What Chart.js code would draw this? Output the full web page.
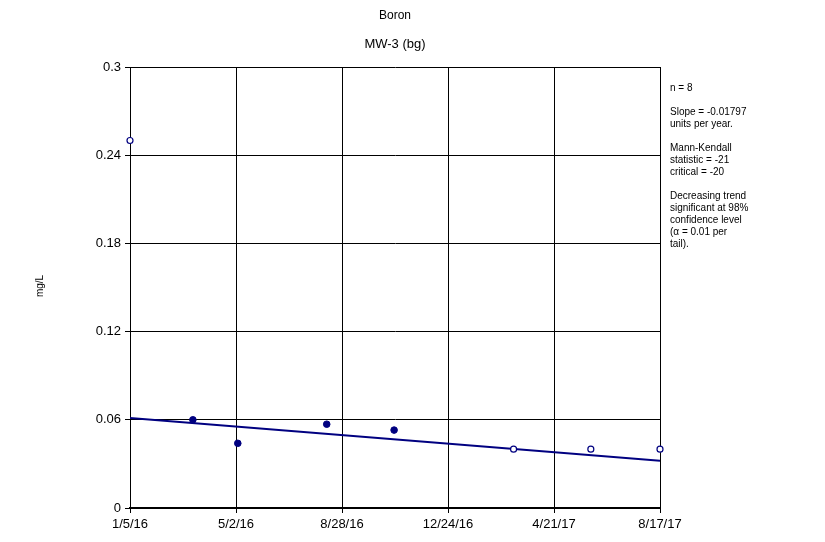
<!DOCTYPE html>
<html>
<head>
<meta charset="utf-8">
<script src="https://cdn.jsdelivr.net/npm/chart.js@4"></script>
<style>
  html, body { margin: 0; padding: 0; background: #fff; }
  #wrap { width: 825px; height: 542px; }
</style>
</head>
<body>
<div id="wrap"><canvas id="myChart" width="825" height="542"></canvas></div>
<script>
// sample dates and boron results (mg/L)
const sampleDates = ['1/5/16', '3/15/16', '5/4/16', '8/11/16', '10/25/16', '3/7/17', '6/1/17', '8/17/17'];
const boron = [0.25, 0.06, 0.044, 0.057, 0.053, 0.04, 0.04, 0.04];
// true = below reporting limit (hollow marker)
const nonDetect = [true, false, false, false, false, true, true, true];

// Sen's slope trend line, start and end
const trendDates = ['1/5/16', '8/17/17'];
const trendValues = [0.0612, 0.0322];

const xTickLabels = ['1/5/16', '5/2/16', '8/28/16', '12/24/16', '4/21/17', '8/17/17'];
const yTickLabels = ['0', '0.06', '0.12', '0.18', '0.24', '0.3'];

const statsText = [
    ['n = 8'],
    ['Slope = -0.01797', 'units per year.'],
    ['Mann-Kendall', 'statistic = -21', 'critical = -20'],
    ['Decreasing trend', 'significant at 98%', 'confidence level', '(\u03b1 = 0.01 per', 'tail).'],
];

const FONT = '"Liberation Sans", Arial, sans-serif';

// days since first sample
function toDay(s) {
    const [m, d, y] = s.split('/').map(Number);
    return (Date.UTC(2000 + y, m - 1, d) - Date.UTC(2016, 0, 5)) / 86400000;
}

const detected = [];
const undetected = [];
sampleDates.forEach((d, i) => {
    const pt = { x: toDay(d), y: boron[i] };
    (nonDetect[i] ? undetected : detected).push(pt);
});
const trend = trendDates.map((d, i) => ({ x: toDay(d), y: trendValues[i] }));
const xTicks = xTickLabels.map(toDay);

const textPlugin = {
    id: 'textPlugin',
    afterDraw(chart) {
        const c = chart.ctx;
        const area = chart.chartArea;
        const mid = (area.left + area.right) / 2;
        c.save();
        c.fillStyle = '#000';
        c.textAlign = 'center';
        c.textBaseline = 'middle';
        c.font = '12px ' + FONT;
        c.fillText('Boron', mid, 16);
        c.font = '13px ' + FONT;
        c.fillText('MW-3 (bg)', mid, 44);

        c.save();
        c.translate(40, 286);
        c.rotate(-Math.PI / 2);
        c.font = '10px ' + FONT;
        c.fillText('mg/L', 0, 0);
        c.restore();

        c.textAlign = 'left';
        c.font = '10px ' + FONT;
        let y = 88;
        statsText.forEach(block => {
            block.forEach(line => {
                c.fillText(line, 670, y);
                y += 12;
            });
            y += 12;
        });
        c.restore();
    },
};

let ctx = document.getElementById('myChart').getContext('2d');

new Chart(ctx, {
    type: 'scatter',
    data: {
        datasets: [
            {
                label: 'Trend',
                type: 'line',
                data: trend,
                borderColor: '#000080',
                borderWidth: 2,
                pointRadius: 0,
                fill: false,
                order: 2,
            },
            {
                label: 'Detected',
                data: detected,
                backgroundColor: '#000080',
                borderColor: '#000080',
                pointRadius: 3.3,
                borderWidth: 1,
                clip: false,
                order: 1,
            },
            {
                label: 'Non-detect',
                data: undetected,
                backgroundColor: '#ffffff',
                borderColor: '#000080',
                pointRadius: 3,
                borderWidth: 1.2,
                clip: false,
                order: 0,
            },
        ],
    },
    options: {
        responsive: false,
        animation: false,
        layout: {
            padding: { left: 70, right: 165, top: 67, bottom: 0 },
        },
        plugins: {
            legend: { display: false },
            title: { display: false },
            tooltip: { enabled: false },
        },
        scales: {
            x: {
                type: 'linear',
                min: 0,
                max: xTicks[xTicks.length - 1],
                afterBuildTicks: scale => {
                    scale.ticks = xTicks.map(v => ({ value: v }));
                },
                afterFit: scale => { scale.height = 34; },
                ticks: {
                    color: '#000',
                    font: { family: FONT, size: 13 },
                    padding: 4,
                    maxRotation: 0,
                    autoSkip: false,
                    callback: (v, i) => xTickLabels[i],
                },
                grid: { color: '#000', lineWidth: 1, tickLength: 5 },
                border: { color: '#000', width: 2 },
            },
            y: {
                min: 0,
                max: 0.3,
                afterBuildTicks: scale => {
                    scale.ticks = yTickLabels.map(v => ({ value: Number(v) }));
                },
                afterFit: scale => { scale.width = 60; },
                ticks: {
                    color: '#000',
                    font: { family: FONT, size: 13 },
                    padding: 4,
                    callback: (v, i) => yTickLabels[i],
                },
                grid: { color: '#000', lineWidth: 1, tickLength: 5 },
                border: { color: '#000', width: 1 },
            },
        },
    },
    plugins: [textPlugin],
});
</script>
</body>
</html>
